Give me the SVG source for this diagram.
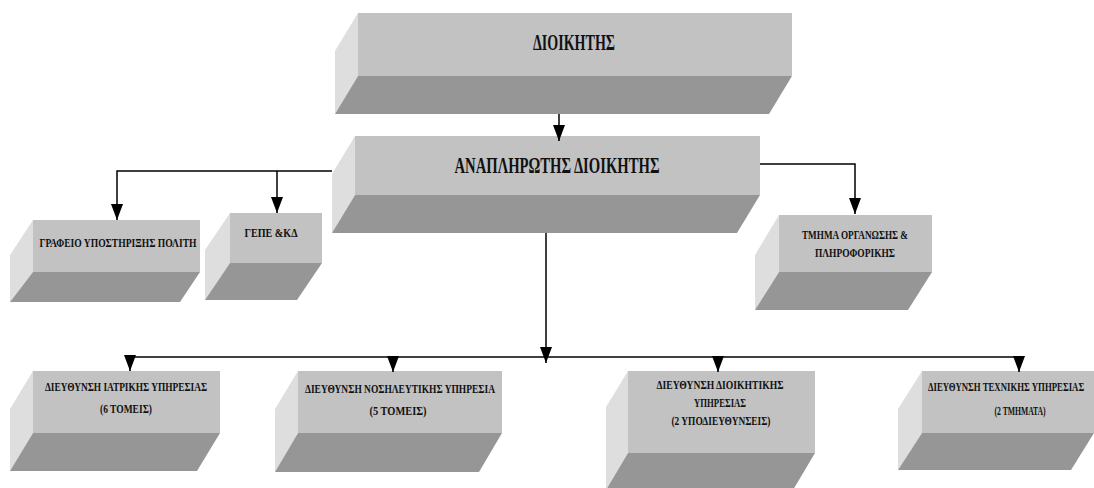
<svg xmlns="http://www.w3.org/2000/svg" width="1094" height="488" viewBox="0 0 1094 488">
<defs>
<marker id="arr" markerUnits="userSpaceOnUse" markerWidth="16" markerHeight="12" refX="16" refY="6" orient="auto">
<path d="M0,0 L16,6 L0,12 z" fill="#000"/>
</marker>
</defs>
<style>
.front{fill:#c2c2c2}
.bot{fill:#969696}
.side{fill:#dedede}
.t{font-family:"Liberation Serif","Times New Roman",serif;font-weight:bold;fill:#111;text-anchor:middle}
.big{font-size:23px}
.sm{font-size:13px}
.conn{fill:none;stroke:#000;stroke-width:1.5}
</style>
<rect width="1094" height="488" fill="#fff"/>

<g id="n-dioikitis">
<polygon class="side" points="358,13 335,51 335,114 358,76"/>
<polygon class="bot" points="358,76 792,76 769,114 335,114"/>
<rect class="front" x="358" y="13" width="434" height="63"/>
<text class="t big" x="574" y="50" textLength="82" lengthAdjust="spacingAndGlyphs">ΔΙΟΙΚΗΤΗΣ</text>
</g>

<g id="n-anaplirotis">
<polygon class="side" points="355,136 332,174 332,233 355,195"/>
<polygon class="bot" points="355,195 760,195 737,233 332,233"/>
<rect class="front" x="355" y="136" width="405" height="59"/>
<text class="t big" x="557" y="173" textLength="205" lengthAdjust="spacingAndGlyphs">ΑΝΑΠΛΗΡΩΤΗΣ ΔΙΟΙΚΗΤΗΣ</text>
</g>

<g id="n-grafeio">
<polygon class="side" points="33,220 10,255 10,302 33,272"/>
<polygon class="bot" points="33,272 200,272 180,302 10,302"/>
<rect class="front" x="33" y="220" width="167" height="52"/>
<text class="t sm" x="118" y="247" textLength="157" lengthAdjust="spacingAndGlyphs">ΓΡΑΦΕΙΟ ΥΠΟΣΤΗΡΙΞΗΣ ΠΟΛΙΤΗ</text>
</g>

<g id="n-gepe">
<polygon class="side" points="230,213 205,250 205,300 230,263"/>
<polygon class="bot" points="230,263 322,263 297,300 205,300"/>
<rect class="front" x="230" y="213" width="92" height="50"/>
<text class="t sm" x="271" y="237" textLength="53" lengthAdjust="spacingAndGlyphs">ΓΕΠΕ &amp;ΚΔ</text>
</g>

<g id="n-tmima">
<polygon class="side" points="779,215 755,255 755,310 779,272"/>
<polygon class="bot" points="779,272 932,272 908,310 755,310"/>
<rect class="front" x="779" y="215" width="153" height="57"/>
<text class="t sm" x="855" y="239" textLength="106" lengthAdjust="spacingAndGlyphs">ΤΜΗΜΑ ΟΡΓΑΝΩΣΗΣ &amp;</text>
<text class="t sm" x="855" y="257" textLength="80" lengthAdjust="spacingAndGlyphs">ΠΛΗΡΟΦΟΡΙΚΗΣ</text>
</g>

<g id="n-iatriki">
<polygon class="side" points="33,371 10,409 10,471 33,433"/>
<polygon class="bot" points="33,433 220,433 197,471 10,471"/>
<rect class="front" x="33" y="371" width="187" height="62"/>
<text class="t sm" x="126" y="391" textLength="162" lengthAdjust="spacingAndGlyphs">ΔΙΕΥΘΥΝΣΗ ΙΑΤΡΙΚΗΣ ΥΠΗΡΕΣΙΑΣ</text>
<text class="t sm" x="126" y="413" textLength="52" lengthAdjust="spacingAndGlyphs">(6 ΤΟΜΕΙΣ)</text>
</g>

<g id="n-nosileftiki">
<polygon class="side" points="298,371 275,409 275,472 298,433"/>
<polygon class="bot" points="298,433 502,433 479,472 275,472"/>
<rect class="front" x="298" y="371" width="204" height="62"/>
<text class="t sm" x="400" y="393" textLength="190" lengthAdjust="spacingAndGlyphs">ΔΙΕΥΘΥΝΣΗ  ΝΟΣΗΛΕΥΤΙΚΗΣ ΥΠΗΡΕΣΙΑ</text>
<text class="t sm" x="398" y="415" textLength="57" lengthAdjust="spacingAndGlyphs">(5 ΤΟΜΕΙΣ)</text>
</g>

<g id="n-dioikitiki">
<polygon class="side" points="628,371 606,407 606,490 628,453"/>
<polygon class="bot" points="628,453 815,453 793,490 606,490"/>
<rect class="front" x="628" y="371" width="187" height="82"/>
<text class="t sm" x="720" y="389" textLength="127" lengthAdjust="spacingAndGlyphs">ΔΙΕΥΘΥΝΣΗ ΔΙΟΙΚΗΤΙΚΗΣ</text>
<text class="t sm" x="720" y="407" textLength="52" lengthAdjust="spacingAndGlyphs">ΥΠΗΡΕΣΙΑΣ</text>
<text class="t sm" x="721" y="425" textLength="99" lengthAdjust="spacingAndGlyphs">(2 ΥΠΟΔΙΕΥΘΥΝΣΕΙΣ)</text>
</g>

<g id="n-texniki">
<polygon class="side" points="922,371 898,409 898,470 922,433"/>
<polygon class="bot" points="922,433 1094,433 1071,470 898,470"/>
<rect class="front" x="922" y="371" width="172" height="62"/>
<text class="t sm" transform="scale(0.64,1)" x="1450" y="391" style="text-anchor:start" textLength="244" lengthAdjust="spacingAndGlyphs">ΔΙΕΥΘΥΝΣΗ ΤΕΧΝΙΚΗΣ  ΥΠΗΡΕΣΙΑΣ</text>
<text class="t sm" x="1020" y="415" textLength="51" lengthAdjust="spacingAndGlyphs">(2 ΤΜΗΜΑΤΑ)</text>
</g>

<g id="connectors">
<path class="conn" d="M559,114 V141" marker-end="url(#arr)"/>
<path class="conn" d="M332,171 H117 V220" marker-end="url(#arr)"/>
<path class="conn" d="M277,171 V213" marker-end="url(#arr)"/>
<path class="conn" d="M760,164 H855 V214" marker-end="url(#arr)"/>
<path class="conn" d="M546,233 V363" marker-end="url(#arr)"/>
<path class="conn" d="M130,357 H1019"/>
<path class="conn" d="M130,357 V371" marker-end="url(#arr)"/>
<path class="conn" d="M393,357 V372" marker-end="url(#arr)"/>
<path class="conn" d="M718,357 V372" marker-end="url(#arr)"/>
<path class="conn" d="M1019,357 V372" marker-end="url(#arr)"/>
</g>
</svg>
